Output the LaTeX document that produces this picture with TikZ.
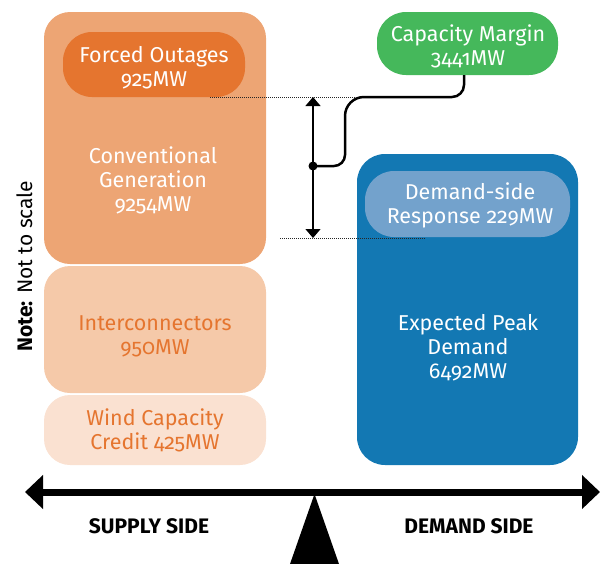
\documentclass[tikz,border=0pt]{standalone}
\usepackage{fontspec}
\setmainfont{Fira Sans}[Numbers=OldStyle]
\usetikzlibrary{arrows.meta}
% centred lines whose baseline is that of the first line
\newcommand\stacklines[1]{\vtop{\halign{\hfil##\hfil\cr#1\crcr}}}
\definecolor{convorange}{HTML}{EDA574}
\definecolor{deeporange}{HTML}{E5752F}
\definecolor{interorange}{HTML}{F5C9A9}
\definecolor{windorange}{HTML}{FAE1D1}
\definecolor{peakblue}{HTML}{1378B3}
\definecolor{dsrblue}{HTML}{73A2CC}
\definecolor{margingreen}{HTML}{45B85B}
\begin{document}
\begin{tikzpicture}[x=1pt,y=-1pt,
  block/.style={rounded corners=26pt, inner sep=0pt, draw=none},
  pill/.style={rounded corners=29pt, inner sep=0pt, draw=none},
  txt/.style={anchor=base, inner sep=0pt, font=\fontsize{21.5}{24}\selectfont},
  sidelabel/.style={anchor=base, inner sep=0pt, font=\fontsize{21}{24}\selectfont\bfseries},
  guide/.style={line width=0.9pt, dash pattern=on 1pt off 1pt, black!85},
  beam/.style={line width=7pt, {Triangle[length=18pt,width=33pt]}-{Triangle[length=18pt,width=33pt]}},
  span/.style={line width=1.3pt, {Triangle[length=9pt,width=15pt]}-{Triangle[length=9pt,width=15pt]}},
  link/.style={line width=2.5pt}]
\useasboundingbox (0,0) rectangle (605,563);

% supply side blocks
\node[block, fill=convorange, minimum width=222pt, minimum height=252pt] (conv) at (155,138) {};
\node[pill, fill=deeporange, minimum width=182pt, minimum height=65pt] (forced) at (154,64.5) {};
\node[block, fill=interorange, minimum width=222pt, minimum height=127pt] (inter) at (155,329.5) {};
\node[block, fill=windorange, minimum width=222pt, minimum height=70pt] (wind) at (155,430) {};

% demand side blocks
\node[block, fill=peakblue, minimum width=221pt, minimum height=311pt, rounded corners=28pt] (peak) at (467.5,309.5) {};
\node[pill, fill=dsrblue, minimum width=205pt, minimum height=66pt] (dsr) at (467.5,204) {};
\node[pill, fill=margingreen, minimum width=181pt, minimum height=63pt] (margin) at (467.5,43.5) {};

% block labels
\node[txt, text=white] (forcedtxt) at (154,62) {\stacklines{Forced Outages\cr 925MW}};
\node[txt, text=white] (convtxt) at (153,163) {\stacklines{Conventional\cr Generation\cr 9254MW}};
\node[txt, text=deeporange] (intertxt) at (155,330) {\stacklines{Interconnectors\cr 950MW}};
\node[txt, text=deeporange] (windtxt) at (155,425) {\stacklines{Wind Capacity\cr Credit 425MW}};
\node[txt, text=white] (dsrtxt) at (470,199) {\stacklines{Demand-side\cr Response 229MW}};
\node[txt, text=white] (peaktxt) at (468,330) {\stacklines{Expected Peak\cr Demand\cr 6492MW}};
\node[txt, text=white] (margintxt) at (468,41) {\stacklines{Capacity Margin\cr 3441MW}};

% note
\node[anchor=base west, inner sep=0pt, rotate=90, font=\fontsize{21}{24}\selectfont] (note) at (32,352) {\textbf{Note:} Not to scale};

% margin bracket
\coordinate (guideAa) at (210,97);
\coordinate (guideAb) at (355,97);
\coordinate (guideBa) at (280,238);
\coordinate (guideBb) at (425,238);
\draw[guide] (guideAa) -- (guideAb);
\draw[guide] (guideBa) -- (guideBb);
\coordinate (spantop) at (313,97);
\coordinate (spanbot) at (313,238);
\draw[span] (spantop) -- (spanbot);
\node[circle, fill=black, inner sep=0pt, minimum size=9pt] (dot) at (313,166) {};
\coordinate (linkend) at (464,75);
\draw[link] (dot.center) [rounded corners=11pt] -- (345,166)
  [rounded corners=19pt] -- (345,97) [rounded corners=12pt] -- (464,97) -- (linkend);

% balance beam and fulcrum
\coordinate (beamL) at (25,492);
\coordinate (beamR) at (600,492);
\draw[beam] (beamL) -- (beamR);
\coordinate (pivot) at (314.5,494);
\fill (pivot) -- (290,564) -- (339,564) -- cycle;

\node[sidelabel] (supply) at (149,533) {SUPPLY SIDE};
\node[sidelabel] (demand) at (469,533) {DEMAND SIDE};
\end{tikzpicture}
\end{document}
